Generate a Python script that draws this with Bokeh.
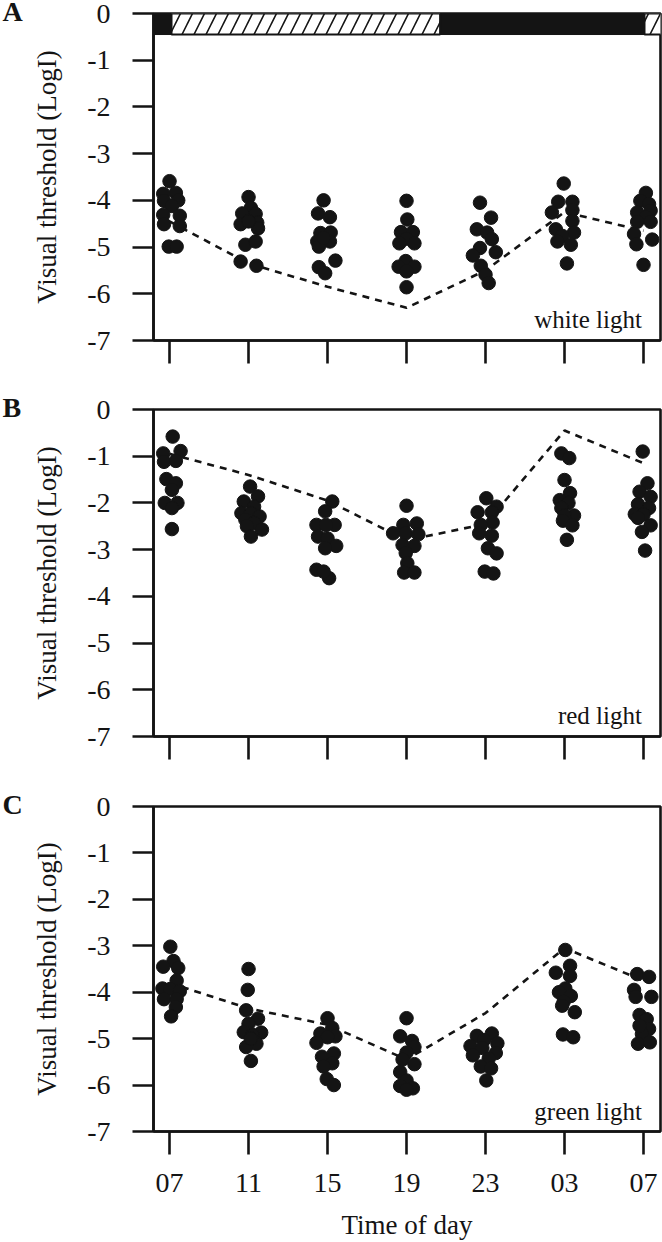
import numpy as np
from bokeh.plotting import figure
from bokeh.layouts import column
from bokeh.models import Label, FixedTicker, Range1d
from bokeh.embed import file_html
from bokeh.resources import INLINE

FONT = "Liberation Serif"
INK = "#141414"

# ---------------- data ----------------
times = ["07", "11", "15", "19", "23", "03", "07"]
time_hours = [7, 11, 15, 19, 23, 27, 31]
y_ticks = [0, -1, -2, -3, -4, -5, -6, -7]

# lighting schedule (clock hours; 27 = 03 next day)
light_periods = [(7.1, 20.7), (31.05, 34.0)]
dark_periods = [(4.0, 7.1), (20.7, 31.05)]

# A: white light
white_values = [
    [-3.59, -3.86, -3.84, -4.01, -4.00, -4.12, -4.31, -4.33, -4.51, -4.55, -4.99, -4.99],
    [-3.93, -4.16, -4.28, -4.29, -4.51, -4.48, -4.60, -4.45, -4.95, -4.88, -5.31, -5.40],
    [-4.00, -4.28, -4.36, -4.70, -4.69, -4.88, -4.88, -4.99, -5.29, -5.43, -5.56, -4.80],
    [-4.01, -4.41, -4.68, -4.68, -4.82, -4.92, -4.92, -5.30, -5.42, -5.42, -5.52, -5.86],
    [-4.05, -4.37, -4.62, -4.69, -4.83, -5.02, -5.11, -5.18, -5.40, -5.59, -5.77],
    [-3.64, -4.03, -4.03, -4.21, -4.26, -4.44, -4.62, -4.69, -4.76, -4.88, -4.95, -5.35],
    [-3.84, -4.01, -4.08, -4.26, -4.22, -4.36, -4.46, -4.46, -4.72, -4.94, -4.84, -5.38],
]
white_offsets = [
    [0.00, -0.08, 0.08, -0.07, 0.11, 0.03, -0.08, 0.13, -0.07, 0.13, -0.01, 0.09],
    [0.00, 0.03, -0.08, 0.09, -0.10, 0.11, 0.12, 0.00, -0.04, 0.09, -0.10, 0.10],
    [-0.05, -0.12, 0.03, -0.09, 0.04, -0.13, 0.03, -0.11, 0.10, -0.11, -0.03, -0.05],
    [0.00, 0.01, -0.07, 0.08, 0.00, -0.09, 0.10, -0.01, -0.10, 0.10, 0.00, 0.00],
    [-0.07, 0.07, -0.11, 0.02, 0.08, -0.07, 0.13, -0.16, -0.06, 0.00, 0.04],
    [-0.01, -0.08, 0.10, 0.10, -0.16, 0.10, -0.11, 0.12, -0.03, -0.09, 0.08, 0.03],
    [0.03, -0.04, 0.07, -0.08, 0.09, 0.03, -0.08, 0.09, -0.12, -0.09, 0.11, 0.00],
]
white_trend = [-4.45, -5.35, -5.85, -6.30, -5.50, -4.25, -4.65]

# B: red light
red_values = [
    [-0.58, -0.94, -0.89, -1.12, -1.10, -1.49, -1.58, -1.72, -2.00, -2.00, -2.11, -2.56],
    [-1.65, -1.86, -1.97, -2.08, -2.22, -2.22, -2.29, -2.36, -2.43, -2.50, -2.57, -2.72],
    [-1.97, -2.18, -2.47, -2.47, -2.72, -2.76, -2.92, -2.97, -3.43, -3.61, -3.47, -2.47],
    [-2.06, -2.47, -2.44, -2.65, -2.65, -2.67, -2.90, -2.92, -3.07, -3.29, -3.49, -3.49],
    [-1.90, -2.08, -2.20, -2.20, -2.42, -2.47, -2.65, -2.70, -2.97, -3.08, -3.47, -3.51],
    [-0.94, -1.04, -1.51, -1.79, -1.94, -2.00, -2.11, -2.27, -2.27, -2.38, -2.48, -2.79],
    [-0.90, -1.58, -1.76, -1.87, -2.03, -2.11, -2.24, -2.25, -2.48, -2.62, -3.02, -2.32],
]
red_offsets = [
    [0.04, -0.08, 0.14, -0.07, 0.08, -0.04, 0.08, 0.03, -0.06, 0.10, 0.03, 0.03],
    [0.02, 0.12, -0.06, 0.07, -0.09, 0.03, 0.14, -0.04, 0.07, -0.02, 0.17, 0.03],
    [0.06, -0.03, -0.14, 0.09, -0.12, 0.00, 0.11, -0.03, -0.14, 0.02, -0.05, -0.02],
    [0.00, -0.04, 0.13, -0.17, -0.01, 0.15, -0.05, 0.10, -0.01, 0.01, -0.03, 0.10],
    [0.01, 0.14, -0.10, 0.08, 0.09, -0.06, -0.08, 0.08, 0.03, 0.14, -0.01, 0.10],
    [-0.04, 0.06, 0.00, 0.07, -0.06, 0.05, -0.04, 0.12, 0.00, -0.02, 0.10, 0.03],
    [-0.01, 0.05, -0.05, 0.09, -0.07, 0.07, -0.11, 0.00, 0.09, -0.02, 0.02, -0.07],
]
red_trend = [-0.95, -1.40, -1.95, -2.80, -2.45, -0.45, -1.15]

# C: green light
green_values = [
    [-3.02, -3.33, -3.45, -3.48, -3.75, -3.92, -3.93, -3.98, -4.15, -4.15, -4.32, -4.52],
    [-3.50, -3.95, -4.39, -4.57, -4.68, -4.86, -4.87, -4.92, -5.11, -5.18, -5.48, -5.00],
    [-4.56, -4.77, -4.89, -4.95, -4.97, -5.09, -5.32, -5.39, -5.53, -5.60, -5.87, -6.00],
    [-4.56, -4.95, -5.05, -5.18, -5.30, -5.45, -5.55, -5.72, -5.90, -6.02, -6.07, -6.10],
    [-4.94, -4.89, -5.03, -5.16, -5.10, -5.20, -5.31, -5.36, -5.43, -5.60, -5.64, -5.90],
    [-3.09, -3.43, -3.58, -3.65, -3.92, -4.00, -4.08, -4.20, -4.29, -4.43, -4.91, -4.97],
    [-3.61, -3.67, -3.95, -4.10, -4.10, -4.49, -4.58, -4.79, -4.90, -5.11, -5.08, -4.72],
]
green_offsets = [
    [0.01, 0.05, -0.08, 0.11, 0.09, -0.09, 0.01, 0.13, -0.07, 0.09, 0.08, 0.02],
    [0.00, -0.01, -0.03, 0.12, 0.00, -0.06, 0.16, 0.05, 0.10, -0.03, 0.03, 0.03],
    [0.00, 0.06, -0.09, 0.10, 0.00, -0.14, 0.08, -0.07, 0.06, -0.05, -0.01, 0.08],
    [0.00, -0.08, 0.07, 0.10, 0.00, -0.05, 0.10, -0.08, 0.00, -0.08, 0.08, 0.00],
    [-0.11, 0.08, -0.02, -0.19, 0.15, -0.04, 0.13, -0.16, 0.04, -0.06, 0.07, 0.01],
    [0.01, 0.07, -0.11, 0.07, 0.01, -0.07, 0.08, -0.01, -0.03, 0.13, -0.02, 0.11],
    [-0.08, 0.07, -0.12, 0.10, -0.10, -0.05, 0.04, 0.07, -0.02, -0.07, 0.08, -0.05],
]
green_trend = [-3.80, -4.35, -4.70, -5.45, -4.45, -3.05, -3.75]

panels = [
    ("A", "white light", white_values, white_offsets, white_trend),
    ("B", "red light", red_values, red_offsets, red_trend),
    ("C", "green light", green_values, green_offsets, green_trend),
]


def hour_to_index(h):
    return (h - time_hours[0]) / (time_hours[1] - time_hours[0])


def make_panel(letter, light_label, values, offsets, trend, height,
               border_top, border_bottom, show_bar, show_xlabels):
    p = figure(width=662, height=height, output_backend="svg",
               toolbar_location=None, tools="",
               x_range=Range1d(-0.203, 6.215), y_range=Range1d(-7, 0),
               min_border_left=153, min_border_right=2,
               min_border_top=border_top, min_border_bottom=border_bottom,
               title=letter)
    p.background_fill_color = "white"
    p.border_fill_color = "white"
    p.outline_line_color = INK
    p.outline_line_width = 2.6
    p.xgrid.visible = False
    p.ygrid.visible = False

    # panel letter, pulled to the left edge and down level with the top tick
    p.title.align = "left"
    p.title.offset = -151
    p.title.standoff = -26
    p.title.text_font = FONT
    p.title.text_font_size = "28px"
    p.title.text_font_style = "bold"
    p.title.text_color = INK

    idx = list(range(len(times)))

    if show_bar:
        p.quad(left=[hour_to_index(a) for a, b in dark_periods],
               right=[hour_to_index(b) for a, b in dark_periods],
               top=0, bottom=-0.45, fill_color=INK, line_color=INK, line_width=1)
        p.quad(left=[hour_to_index(a) for a, b in light_periods],
               right=[hour_to_index(b) for a, b in light_periods],
               top=0, bottom=-0.45, fill_color="white", line_color=INK,
               line_width=2, hatch_pattern="/", hatch_color=INK,
               hatch_scale=24, hatch_weight=1.6)

    xs, ys = [], []
    for i, (vals, offs) in enumerate(zip(values, offsets)):
        for v, o in zip(vals, offs):
            xs.append(i + o)
            ys.append(v)

    p.line(idx, trend, line_color=INK, line_width=2.6, line_dash="7 6")
    p.scatter(xs, ys, size=13.5, fill_color=INK, line_color=INK)

    # axes
    p.yaxis.ticker = FixedTicker(ticks=y_ticks)
    p.yaxis.major_label_overrides = {t: str(t) for t in y_ticks}
    p.xaxis.ticker = FixedTicker(ticks=idx)
    if show_xlabels:
        p.xaxis.major_label_overrides = {i: t for i, t in enumerate(times)}
        p.xaxis.axis_label = "Time of day"
    else:
        p.xaxis.major_label_overrides = {i: "" for i in idx}
    p.yaxis.axis_label = "Visual threshold (LogI)"

    for ax in (p.xaxis[0], p.yaxis[0]):
        ax.axis_line_color = INK
        ax.axis_line_width = 2.6
        ax.major_tick_line_color = INK
        ax.major_tick_line_width = 2.6
        ax.major_tick_in = 0
        ax.minor_tick_line_color = None
        ax.major_label_text_font = FONT
        ax.major_label_text_font_size = "28px"
        ax.major_label_text_color = INK
        ax.axis_label_text_font = FONT
        ax.axis_label_text_font_size = "27px"
        ax.axis_label_text_font_style = "normal"
        ax.axis_label_text_color = INK
    p.yaxis.major_tick_out = 21
    p.yaxis.major_label_standoff = 22
    p.yaxis.axis_label_standoff = 22
    p.xaxis.major_tick_out = 23
    p.xaxis.major_label_standoff = 19
    p.xaxis.axis_label_standoff = 15

    p.add_layout(Label(x=5.98, y=-6.56, text=light_label, text_align="right",
                       text_baseline="alphabetic", text_font=FONT,
                       text_font_size="25px", text_color=INK))
    return p


pa = make_panel(*panels[0], height=375, border_top=13, border_bottom=35,
                show_bar=True, show_xlabels=False)
pb = make_panel(*panels[1], height=396, border_top=34, border_bottom=35,
                show_bar=False, show_xlabels=False)
pc = make_panel(*panels[2], height=471, border_top=35, border_bottom=109,
                show_bar=False, show_xlabels=True)

layout = column(pa, pb, pc, spacing=0)
open("out.html", "w").write(file_html(layout, INLINE))
